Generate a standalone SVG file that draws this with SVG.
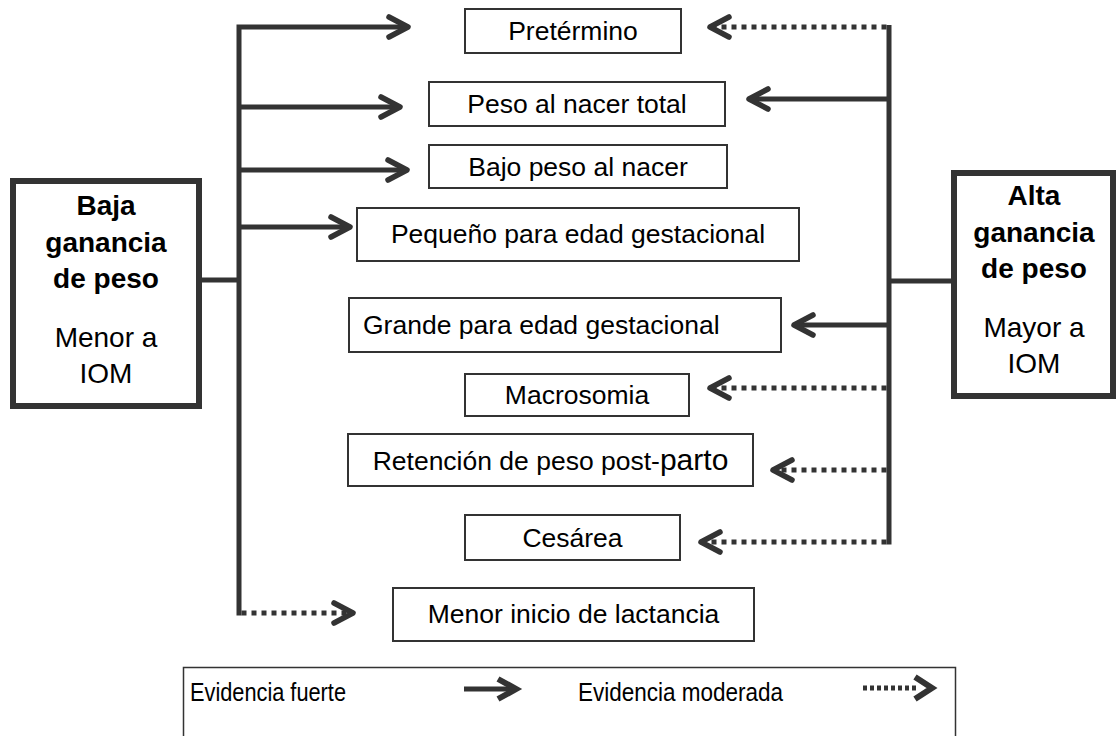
<svg xmlns="http://www.w3.org/2000/svg" width="1117" height="736" viewBox="0 0 1117 736">
<style>
.box{fill:#fff;stroke:#333;stroke-width:2}
.big{fill:#fff;stroke:#333;stroke-width:6}
.lbl{font-family:"Liberation Sans",Arial,sans-serif;font-size:26.5px;fill:#000;text-anchor:middle}
.lbs{font-family:"Liberation Sans",Arial,sans-serif;font-size:26.5px;fill:#000;text-anchor:start}
.hd{font-family:"Liberation Sans",Arial,sans-serif;font-size:28px;fill:#000;text-anchor:middle}
.b{font-weight:bold}
.ln{fill:none;stroke:#333;stroke-width:5}
.dot{fill:none;stroke:#333;stroke-width:5;stroke-dasharray:5 5}
.lg{font-family:"Liberation Sans",Arial,sans-serif;font-size:26px;fill:#000}
</style>
<defs>
<marker id="chev" markerUnits="userSpaceOnUse" markerWidth="40" markerHeight="40" viewBox="-30 -20 40 40" refX="0" refY="0" orient="auto" overflow="visible">
<path d="M-19,-10 L0,0 L-19,10" fill="none" stroke="#333" stroke-width="5.5" stroke-linecap="round" stroke-linejoin="round"/>
</marker>
</defs>
<rect width="1117" height="736" fill="#fff"/>

<g id="connectors">
<path class="ln" d="M239,615.5 L239,27 L408,27" marker-end="url(#chev)"/>
<path class="ln" d="M239,107 L400,107" marker-end="url(#chev)"/>
<path class="ln" d="M239,170 L407,170" marker-end="url(#chev)"/>
<path class="ln" d="M239,227 L350,227" marker-end="url(#chev)"/>
<path class="ln" d="M196,280 L239,280"/>
<path class="dot" d="M241.5,613 L348,613"/>
<path stroke="none" fill="none" d="M338,613 L353,613" marker-end="url(#chev)"/>

<path class="ln" d="M889,25 L889,544.5"/>
<path class="ln" d="M889,281 L952,281"/>
<path class="dot" d="M886.5,27 L715,27"/>
<path stroke="none" fill="none" d="M730,27 L710,27" marker-end="url(#chev)"/>
<path class="ln" d="M889,99 L749,99" marker-end="url(#chev)"/>
<path class="ln" d="M889,325 L794,325" marker-end="url(#chev)"/>
<path class="dot" d="M886.5,388 L715,388"/>
<path stroke="none" fill="none" d="M730,388 L710,388" marker-end="url(#chev)"/>
<path class="dot" d="M886.5,470 L778,470"/>
<path stroke="none" fill="none" d="M793,470 L773,470" marker-end="url(#chev)"/>
<path class="dot" d="M886.5,542 L706,542"/>
<path stroke="none" fill="none" d="M721,542 L701,542" marker-end="url(#chev)"/>
</g>

<g id="baja">
<rect class="big" x="13" y="181" width="186" height="225"/>
<text class="hd b" x="106" y="215">Baja</text>
<text class="hd b" x="106" y="252">ganancia</text>
<text class="hd b" x="106" y="288">de peso</text>
<text class="hd" x="106" y="347">Menor a</text>
<text class="hd" x="106" y="383">IOM</text>
</g>

<g id="alta">
<rect class="big" x="954" y="173" width="159" height="223"/>
<text class="hd b" x="1034" y="205">Alta</text>
<text class="hd b" x="1034" y="242">ganancia</text>
<text class="hd b" x="1034" y="278">de peso</text>
<text class="hd" x="1034" y="337">Mayor a</text>
<text class="hd" x="1034" y="373">IOM</text>
</g>

<g id="pretermino">
<rect class="box" x="465" y="9" width="216" height="44"/>
<text class="lbl" x="573" y="40">Pretérmino</text>
</g>
<g id="peso-total">
<rect class="box" x="429" y="82" width="296" height="44"/>
<text class="lbl" x="577" y="113">Peso al nacer total</text>
</g>
<g id="bajo-peso">
<rect class="box" x="429" y="145" width="298" height="43"/>
<text class="lbl" x="578" y="176">Bajo peso al nacer</text>
</g>
<g id="pequeno">
<rect class="box" x="357" y="208" width="442" height="53"/>
<text class="lbl" x="578" y="243">Pequeño para edad gestacional</text>
</g>
<g id="grande">
<rect class="box" x="349" y="298" width="432" height="54"/>
<text class="lbs" x="363" y="334">Grande para edad gestacional</text>
</g>
<g id="macrosomia">
<rect class="box" x="465" y="374" width="224" height="42"/>
<text class="lbl" x="577" y="404">Macrosomia</text>
</g>
<g id="retencion">
<rect class="box" x="348" y="434" width="405" height="52"/>
<text class="lbl" x="550.5" y="470">Retención de peso post-<tspan font-size="30">parto</tspan></text>
</g>
<g id="cesarea">
<rect class="box" x="465" y="515" width="215" height="45"/>
<text class="lbl" x="572.5" y="547">Cesárea</text>
</g>
<g id="lactancia">
<rect class="box" x="393" y="588" width="361" height="53"/>
<text class="lbl" x="573.5" y="623">Menor inicio de lactancia</text>
</g>

<g id="legend">
<rect x="183.5" y="667.5" width="772" height="100" fill="#fff" stroke="#333" stroke-width="1.5"/>
<text class="lg" x="190" y="701" textLength="156" lengthAdjust="spacingAndGlyphs">Evidencia fuerte</text>
<path d="M464,689 L512,689" fill="none" stroke="#333" stroke-width="5"/>
<path d="M498,679 L516,689 L498,699" fill="none" stroke="#333" stroke-width="6" stroke-linejoin="miter"/>
<text class="lg" x="578" y="701" textLength="205" lengthAdjust="spacingAndGlyphs">Evidencia moderada</text>
<path d="M863,688 L918,688" fill="none" stroke="#333" stroke-width="5" stroke-dasharray="4 3"/>
<path d="M915,677 L932,688 L915,699" fill="none" stroke="#333" stroke-width="6" stroke-linejoin="miter"/>
</g>
</svg>
